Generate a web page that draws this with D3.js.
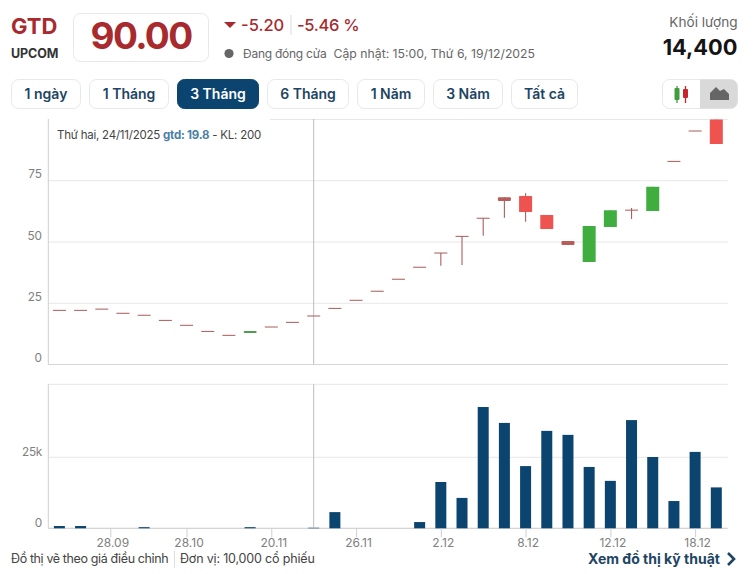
<!DOCTYPE html>
<html><head><meta charset="utf-8">
<script src="https://cdn.jsdelivr.net/npm/d3@7"></script>
<style>
html,body{margin:0;padding:0;background:#fff}
svg{display:block}
text{font-family:Inter,"Noto Sans",sans-serif}
</style></head><body><svg id="c" width="755" height="574"></svg>
<script>
const opens  = [22.1,22.1,22.6,20.9,20.1,18.0,16.0,13.5,11.9,12.9,15.3,17.2,19.8,22.9,26.2,29.9,34.8,39.7,45.5,52.3,59.7,68.3,68.8,61.0,50.4,41.8,56.1,63.0,62.7,82.9,95.3,100.0];
const highs  = [22.1,22.1,22.6,20.9,20.1,18.0,16.0,13.5,11.9,13.7,15.3,17.2,19.8,22.9,26.2,29.9,34.8,39.7,45.5,52.3,59.7,68.3,69.9,61.0,50.4,56.5,63.0,63.9,72.6,82.9,95.3,100.0];
const lows   = [22.1,22.1,22.6,20.9,20.1,18.0,16.0,13.5,11.9,12.9,15.3,17.2,19.8,22.9,26.2,29.9,34.8,39.7,40.3,40.6,52.6,59.9,58.3,55.3,48.8,41.8,56.1,59.4,62.7,82.9,95.3,90.0];
const closes = [22.1,22.1,22.6,20.9,20.1,18.0,16.0,13.5,11.9,13.7,15.3,17.2,19.8,22.9,26.2,29.9,34.8,39.7,45.5,52.3,59.7,66.7,62.2,55.3,48.8,56.5,63.0,63.0,72.6,82.9,95.3,90.0];
const volumes= [800,800,0,0,400,0,0,0,0,400,0,0,200,5700,0,0,0,2200,16300,10700,42700,37100,21900,34300,32900,21600,16700,38100,25100,9600,26900,14400];
const priceTicks = [0,25,50,75,100];
const volumeTicks = [0,25000,50000];
const dateLabels = ["28.09","28.10","20.11","26.11","2.12","8.12","12.12","18.12"];
const dateSlots  = [2.4,6,10,14,18,22,26,30];
const rangeButtons = ["1 ngày","1 Tháng","3 Tháng","6 Tháng","1 Năm","3 Năm","Tất cả"];
const crosshairSlot = 12;

const svg = d3.select("#c");
const RED="#a82a2e", NAVY="#0c4470", GRID="#e7e7e7", AXIS="#cfcfcf";
function txt(x,y,s,size,fill,weight,anchor,ls){
  return svg.append("text").attr("x",x).attr("y",y).text(s)
    .attr("font-size",size).attr("fill",fill).attr("font-weight",weight||400).attr("text-anchor",anchor||"start")
    .attr("letter-spacing",ls||0);
}
/* header */
txt(11,34,"GTD",22,RED,700);
txt(11,58,"UPCOM",12.5,"#333",700,"start",-0.1);
svg.append("rect").attr("x",73.5).attr("y",13.5).attr("width",135).attr("height",48).attr("rx",7).attr("fill","#fff").attr("stroke","#e8e8e8");
txt(141,49,"90.00",37,RED,700,"middle",-1.6);
svg.append("path").attr("d","M224 22H236L230 28Z").attr("fill",RED);
txt(241,31,"-5.20",16.5,RED,500);
svg.append("line").attr("x1",291).attr("x2",291).attr("y1",15).attr("y2",35).attr("stroke","#ddd");
txt(297,31,"-5.46 %",16.5,RED,500,"start",-0.3);
svg.append("circle").attr("cx",229).attr("cy",53.5).attr("r",4.6).attr("fill","#666");
txt(243,58,"Đang đóng cửa",12,"#666",400,"start",-0.25);
txt(333.5,58,"Cập nhật: 15:00, Thứ 6, 19/12/2025",12.25,"#666");
txt(737.5,27,"Khối lượng",13.6,"#666",400,"end");
txt(737.5,55,"14,400",21.8,"#141414",700,"end");

/* range buttons */
const btnEdges=[[11,81],[89,169],[177,259],[267,349],[357,425],[433,503],[511,578]];
rangeButtons.forEach((b,i)=>{
  const [a,e]=btnEdges[i], on=i===2;
  svg.append("rect").attr("x",a+.5).attr("y",79.5).attr("width",e-a-1).attr("height",29).attr("rx",7)
    .attr("fill",on?NAVY:"#fff").attr("stroke",on?NAVY:"#e6e8ea");
  txt((a+e)/2,99,b,14,on?"#fff":"#1d4563",600,"middle");
});
/* chart type toggle */
svg.append("rect").attr("x",662.5).attr("y",79.5).attr("width",75).attr("height",29).attr("rx",7).attr("fill","#fff").attr("stroke","#e6e8ea");
svg.append("path").attr("d","M700 79.5H730.5a7 7 0 0 1 7 7V101.5a7 7 0 0 1-7 7H700Z").attr("fill","#d9d9d9");
[[677,"#3f9e3f",88,100,86,103],[685.5,"#c8252b",89,98,86,103]].forEach(d=>{
  svg.append("line").attr("x1",d[0]).attr("x2",d[0]).attr("y1",d[4]).attr("y2",d[5]).attr("stroke",d[1]).attr("stroke-width",1.3);
  svg.append("rect").attr("x",d[0]-2.5).attr("y",d[2]).attr("width",5).attr("height",d[3]-d[2]).attr("rx",1).attr("fill",d[1]);
});
svg.append("path").attr("d","M710 100V93L716 87L720 91L724 89L729 94L729 100Z M710 100").attr("fill","#666");

/* scales */
const x = d3.scaleLinear().domain([-0.5,31.5]).range([48.8,726.9]);
const y = d3.scaleLinear().domain([0,100]).range([364.5,119.5]);
const yv= d3.scaleLinear().domain([0,50700]).range([528.3,384.3]);
const xEnd=727.7, xStart=48.3;

/* price pane */
svg.append("g").selectAll("line.g").data(priceTicks).join("line").attr("class","g")
  .attr("x1",xStart).attr("x2",xEnd).attr("y1",d=>y(d)).attr("y2",d=>y(d)).attr("stroke",GRID);
svg.append("rect").attr("x",49).attr("y",117).attr("width",221).attr("height",5).attr("fill","#fff");
const ga=svg.append("g").attr("transform","translate(42,-6.7)")
  .call(d3.axisLeft(y).tickValues(priceTicks.slice(0,4)).tickSize(0).tickPadding(0));
ga.select(".domain").remove();
ga.selectAll("text").attr("font-size",11.8).attr("fill","#808080").attr("font-family","Inter,sans-serif");
svg.append("line").attr("x1",xStart).attr("x2",xStart).attr("y1",119).attr("y2",364.5).attr("stroke",AXIS);
svg.append("line").attr("x1",xStart).attr("x2",xEnd).attr("y1",364.5).attr("y2",364.5).attr("stroke",AXIS).attr("stroke-opacity",.7);

/* crosshair */
svg.append("line").attr("x1",x(crosshairSlot)).attr("x2",x(crosshairSlot))
  .attr("y1",119).attr("y2",364.5).attr("stroke","#bdbdbd");

/* candles */
const BW=13, idx=d3.range(closes.length);
const gc=svg.append("g");
idx.forEach(i=>{
  const up=closes[i]>opens[i];
  const top=y(Math.max(opens[i],closes[i])), bot=y(Math.min(opens[i],closes[i]));
  const h=bot-top, small=h<6;
  if(highs[i]>lows[i]) gc.append("line").attr("x1",x(i)).attr("x2",x(i)).attr("y1",y(highs[i])).attr("y2",y(lows[i]))
    .attr("stroke",up?"#3fae3f":"#ad5f5f").attr("stroke-width",1.1);
  if(h<0.5){
    gc.append("line").attr("x1",x(i)-BW/2).attr("x2",x(i)+BW/2).attr("y1",top).attr("y2",top).attr("stroke","#a85a5a").attr("stroke-width",1);
  } else {
    gc.append("rect").attr("x",x(i)-BW/2).attr("y",top).attr("width",BW).attr("height",h).attr("rx",small?1:.5)
      .attr("fill",up?(small?"#4f9d4f":"#3fae3f"):(small?"#b85c5c":"#ee5350"));
  }
});

txt(57,139,"",11.5,"#444",400,"start",-0.23).call(t=>{
  t.append("tspan").text("Thứ hai, 24/11/2025 ");
  t.append("tspan").text("gtd: 19.8").attr("fill","#4a7ea6").attr("font-weight",700);
  t.append("tspan").text(" - KL: 200");
});

/* volume pane */
svg.selectAll("line.v").data(volumeTicks).join("line").attr("class","v")
  .attr("x1",xStart).attr("x2",xEnd).attr("y1",d=>d===50000?384.3:yv(d)).attr("y2",d=>d===50000?384.3:yv(d)).attr("stroke",GRID);
svg.append("line").attr("x1",xStart).attr("x2",xStart).attr("y1",384).attr("y2",528.3).attr("stroke",AXIS);
svg.append("line").attr("x1",xStart).attr("x2",xEnd).attr("y1",528.3).attr("y2",528.3).attr("stroke",AXIS);
svg.append("g").selectAll("rect").data(volumes).join("rect")
  .attr("x",(d,i)=>x(i)-5.5).attr("width",11).attr("y",d=>yv(d)).attr("height",d=>yv(0)-yv(d)).attr("fill",NAVY);
svg.append("line").attr("x1",x(crosshairSlot)).attr("x2",x(crosshairSlot)).attr("y1",384.3).attr("y2",528.3).attr("stroke","#bdbdbd");
const gv=svg.append("g").attr("transform","translate(42,-6)")
  .call(d3.axisLeft(yv).tickValues([0,25000]).tickFormat(d=>d?d/1000+"k":"0").tickSize(0).tickPadding(0));
gv.select(".domain").remove();
gv.selectAll("text").attr("font-size",11.8).attr("fill","#808080").attr("font-family","Inter,sans-serif").attr("letter-spacing",-0.3);

/* date axis */
const gx=svg.append("g").attr("transform","translate(0,528.3)")
  .call(d3.axisBottom(x).tickValues(dateSlots).tickFormat((d,i)=>dateLabels[i]).tickSize(9).tickPadding(1));
gx.select(".domain").remove();
gx.selectAll("line").attr("stroke",AXIS);
gx.selectAll("text").attr("font-size",12).attr("fill","#808080").attr("font-family","Inter,sans-serif").attr("dx",2);

/* footer */
txt(11,563,"Đồ thị vẽ theo giá điều chỉnh",12.5,"#444",400,"start",-0.38);
svg.append("line").attr("x1",174.5).attr("x2",174.5).attr("y1",551).attr("y2",568).attr("stroke","#ddd");
txt(180,563,"Đơn vị: 10,000 cổ phiếu",12.5,"#444",400,"start",-0.17);
txt(588,564,"Xem đồ thị kỹ thuật",14,"#1d4563",700);
svg.append("path").attr("d","M728 553L734 559L728 565").attr("fill","none").attr("stroke","#1d4563").attr("stroke-width",2.6);
</script></body></html>
